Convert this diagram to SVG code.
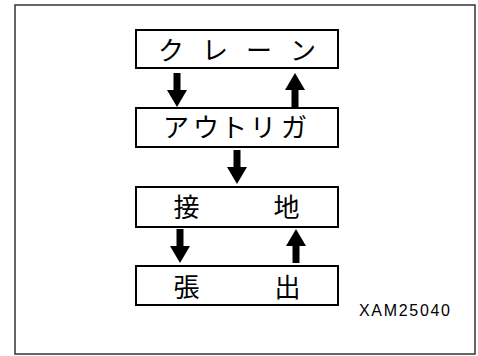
<svg xmlns="http://www.w3.org/2000/svg" width="478" height="356" viewBox="0 0 478 356">
<defs>
<style>
.frame{fill:none;stroke:#333;stroke-width:1.5}
.box{fill:#fff;stroke:#000;stroke-width:2}
.jp{font-family:"Noto Sans CJK JP","Noto Sans",sans-serif;font-size:26px;fill:#000;text-anchor:middle}
.lbl{font-family:"Liberation Sans",Arial,sans-serif;font-size:16px;fill:#000}
.arr{fill:#000}
</style>
<path id="down" d="M-3.5,0 H3.5 V17 H10 L0,34 L-10,17 H-3.5 Z"/>
<path id="up" d="M-3.5,34 H3.5 V17 H10 L0,0 L-10,17 H-3.5 Z"/>
</defs>
<rect width="478" height="356" fill="#fff"/>
<rect class="frame" x="15" y="5" width="460" height="349"/>
<g id="crane">
<rect class="box" x="136" y="30" width="202" height="38"/>
<text class="jp" x="171 215 259 303" y="60">クレーン</text>
</g>
<g id="outrigger">
<rect class="box" x="136" y="108" width="202" height="39"/>
<text class="jp" x="176 206 234 263 294" y="137">アウトリガ</text>
</g>
<g id="grounding">
<rect class="box" x="136" y="187" width="202" height="40"/>
<text class="jp" x="186.5 286.5" y="217">接地</text>
</g>
<g id="extension">
<rect class="box" x="136" y="266" width="202" height="39"/>
<text class="jp" x="186.5 287.5" y="297">張出</text>
</g>
<g id="connectors" class="arr">
<use href="#down" x="177" y="73"/>
<use href="#up" x="295" y="73"/>
<use href="#down" x="237" y="150"/>
<use href="#down" x="180" y="229"/>
<use href="#up" x="296" y="229"/>
</g>
<text class="lbl" x="359" y="316" textLength="91" lengthAdjust="spacing">XAM25040</text>
</svg>
